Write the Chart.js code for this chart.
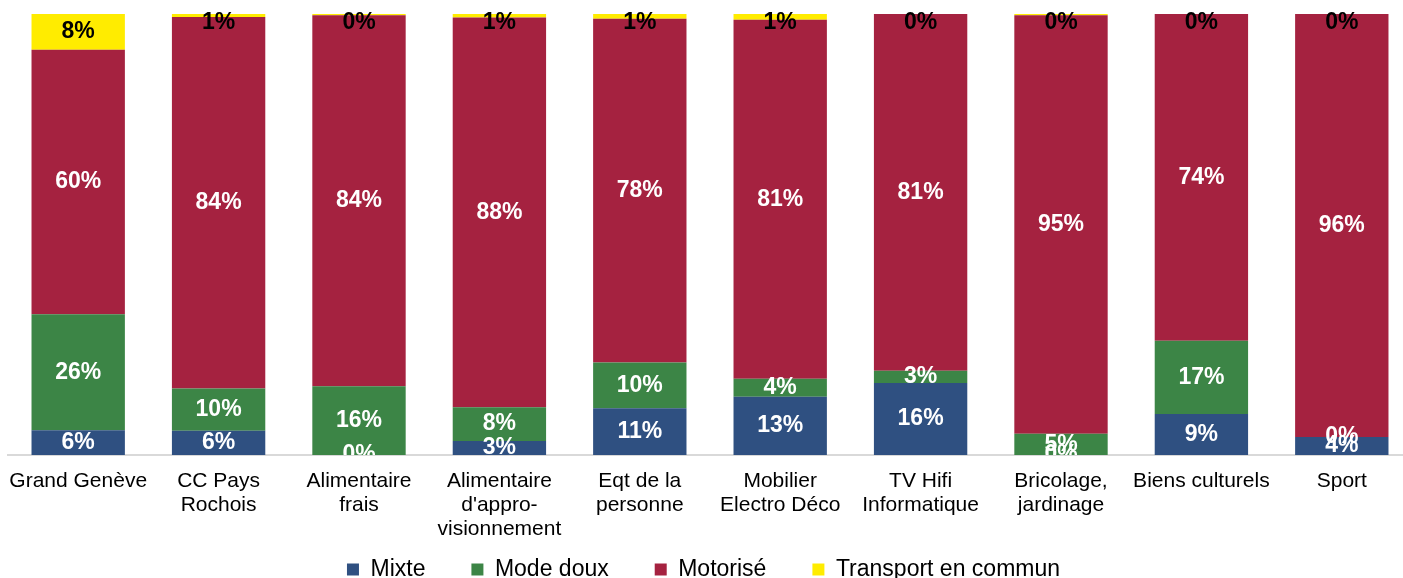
<!DOCTYPE html>
<html>
<head>
<meta charset="utf-8">
<script src="https://cdn.jsdelivr.net/npm/chart.js"></script>
<style>
  html, body { margin: 0; padding: 0; background: #fff; overflow: hidden; }
</style>
</head>
<body>
<canvas id="chart" width="1412" height="578"></canvas>
<script>
// categories (multi-line labels as in the original)
const categories = [
    "Grand Genève",
    ["CC Pays", "Rochois"],
    ["Alimentaire", "frais"],
    ["Alimentaire", "d'appro-", "visionnement"],
    ["Eqt de la", "personne"],
    ["Mobilier", "Electro Déco"],
    ["TV Hifi", "Informatique"],
    ["Bricolage,", "jardinage"],
    "Biens culturels",
    "Sport"
];

// parts in %
const mixte     = [5.6, 5.5, 0, 3.2, 10.6, 13.2, 16.3, 0, 9.3, 4.1];
const modeDoux  = [26.3, 9.6, 15.6, 7.6, 10.4, 4.1, 2.8, 4.8, 16.6, 0];
const motorise  = [60.0, 84.2, 84.1, 88.4, 77.9, 81.4, 80.9, 94.9, 74.1, 95.9];
const transport = [8.1, 0.7, 0.3, 0.8, 1.1, 1.3, 0, 0.3, 0, 0];

const seriesNames = ["Mixte", "Mode doux", "Motorisé", "Transport en commun"];
const colors = ["#2F5081", "#3C8546", "#A52240", "#FFEC00"];
const labelColors = ["#fff", "#fff", "#fff", "#000"];

const FONT = "'Liberation Sans', Arial, sans-serif";

// labels au milieu de chaque segment
const barLabels = {
    id: "barLabels",
    afterLayout(chart) {
        // la légende garde un grand espacement horizontal mais remonte
        chart.legend.top -= 31;
        chart.legend.right = 1399;
    },
    afterDatasetsDraw(chart) {
        const ctx = chart.ctx;
        const area = chart.chartArea;
        ctx.save();
        ctx.beginPath();
        ctx.rect(0, 0, chart.width, area.bottom);
        ctx.clip();
        ctx.font = "bold 23px " + FONT;
        ctx.textAlign = "center";
        ctx.textBaseline = "middle";
        chart.data.datasets.forEach((ds, i) => {
            const meta = chart.getDatasetMeta(i);
            meta.data.forEach((bar, j) => {
                const mid = (bar.y + bar.base) / 2;
                const y = Math.max(mid, area.top + 9);
                ctx.fillStyle = labelColors[i];
                ctx.fillText(Math.round(ds.data[j]) + "%", bar.x, y);
            });
        });
        ctx.restore();
    }
};

const ctx = document.getElementById("chart").getContext("2d");

new Chart(ctx, {
    type: "bar",
    data: {
        labels: categories,
        datasets: [mixte, modeDoux, motorise, transport].map((d, i) => ({
            label: seriesNames[i],
            data: d,
            backgroundColor: colors[i],
            borderWidth: 0,
            barPercentage: 0.665,
            categoryPercentage: 1
        }))
    },
    options: {
        responsive: false,
        animation: false,
        layout: { padding: { top: 14, left: 8, right: 0, bottom: 0 } },
        scales: {
            x: {
                stacked: true,
                grid: { display: false, drawTicks: false },
                border: { color: "#D9D9D9", width: 2 },
                ticks: {
                    color: "#000",
                    font: { family: FONT, size: 21, lineHeight: 1.14 },
                    padding: 14,
                    maxRotation: 0,
                    autoSkip: false
                },
                afterFit(scale) {
                    scale.height = 88;
                    scale.paddingLeft = 0;
                    scale.paddingRight = 0;
                }
            },
            y: {
                stacked: true,
                display: false,
                min: 0,
                max: 100
            }
        },
        plugins: {
            legend: {
                position: "bottom",
                maxHeight: 35,
                labels: {
                    color: "#000",
                    font: { family: FONT, size: 23 },
                    boxWidth: 12,
                    boxHeight: 12,
                    padding: 46
                }
            },
            tooltip: { enabled: false }
        }
    },
    plugins: [barLabels]
});
</script>
</body>
</html>
